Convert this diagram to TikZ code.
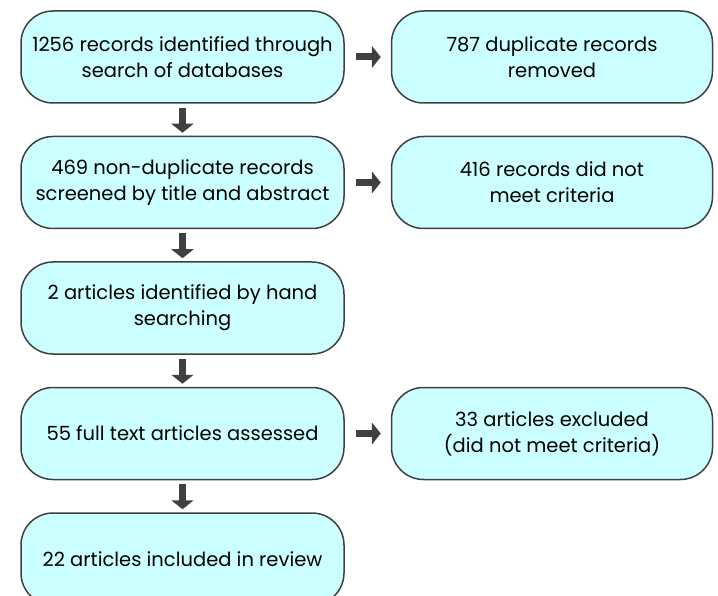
\documentclass[tikz,border=0pt]{standalone}
\usepackage{fontspec}
\setmainfont{Poppins}
\usetikzlibrary{positioning,arrows.meta}
\definecolor{boxfill}{HTML}{CCFFFF}
\definecolor{boxline}{HTML}{404040}

\begin{document}
\begin{tikzpicture}[every node/.style={rectangle, rounded corners=32pt, draw=boxline, fill=boxfill, line width=1.5pt, align=center, font=\fontsize{19.5}{26}\selectfont, minimum height=92pt, inner xsep=2pt},
  leftbox/.style={minimum width=323pt},
  rightbox/.style={minimum width=321pt},
  blockarrow/.style={boxline, line width=7pt, -{Triangle[width=22pt,length=9pt]}}]
  \useasboundingbox (0,0) rectangle (718pt,-596pt);

  \node[leftbox] (rec) at (182.5pt,-57pt){1256 records identified through\\search of databases};
  \node[leftbox, below = 32pt of rec] (screen){469 non-duplicate records\\screened by title and abstract};
  \node[leftbox, below = 32pt of screen] (hand){2 articles identified by hand\\searching};
  \node[leftbox, below = 32pt of hand] (full){55 full text articles assessed};
  \node[leftbox, below = 32pt of full] (incl){22 articles included in review};

  \node[rightbox, right = 46pt of rec] (dup){787 duplicate records\\removed};
  \node[rightbox, right = 46pt of screen] (crit){416 records did not\\meet criteria};
  \node[rightbox, right = 46pt of full] (excl){33 articles excluded\\(did not meet criteria)};

  % down the left column
  \draw [blockarrow, shorten <=4pt, shorten >=3pt] (rec) -- (screen);
  \draw [blockarrow, shorten <=4pt, shorten >=3pt] (screen) -- (hand);
  \draw [blockarrow, shorten <=4pt, shorten >=3pt] (hand) -- (full);
  \draw [blockarrow, shorten <=4pt, shorten >=3pt] (full) -- (incl);

  % out to the right
  \draw [blockarrow, shorten <=11pt, shorten >=10pt] (rec) -- (dup);
  \draw [blockarrow, shorten <=11pt, shorten >=10pt] (screen) -- (crit);
  \draw [blockarrow, shorten <=11pt, shorten >=10pt] (full) -- (excl);
\end{tikzpicture}
\end{document}
